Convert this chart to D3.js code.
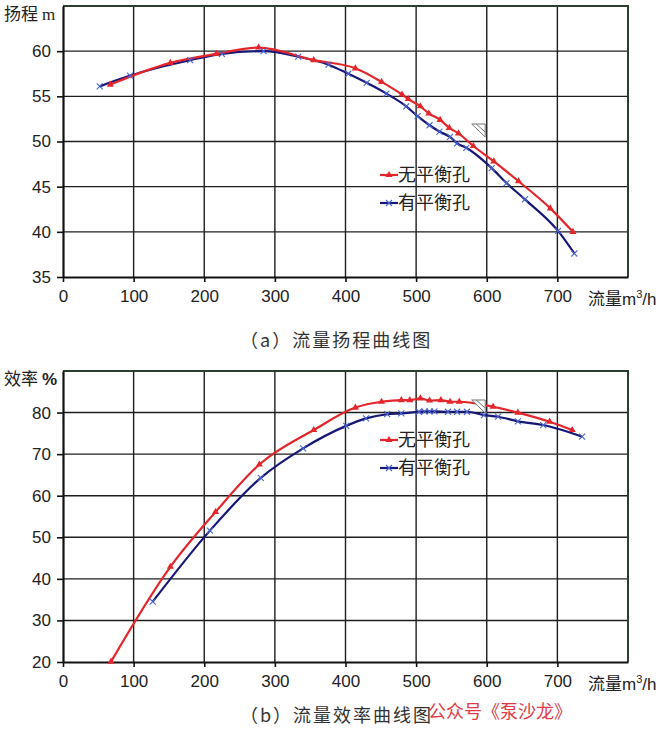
<!DOCTYPE html>
<html><head><meta charset="utf-8">
<script src="https://cdn.jsdelivr.net/npm/d3@7"></script>
<style>body{margin:0;background:#fff}svg{display:block}</style>
</head><body>
<svg id="c" width="665" height="730"></svg>
<script>
// ---- data ----
const seriesNames = ["无平衡孔", "有平衡孔"];
const xTicks = [0,100,200,300,400,500,600,700];
const headTicks = [35,40,45,50,55,60];
const effTicks = [20,30,40,50,60,70,80];

// Head (m) vs flow (m3/h)
const headNoHoleQ = [67,152,217,277,355,414,451,480,489,506,518,534,547,560,581,610,645,690,722];
const headNoHoleH = [56.3,58.7,59.7,60.4,59.0,58.1,56.6,55.2,54.7,53.9,53.1,52.4,51.5,50.9,49.5,47.8,45.6,42.6,40.0];
const headHoleQ = [52,95,180,225,284,333,376,404,430,458,486,502,519,533,548,558,571,607,628,654,701,724];
const headHoleH = [56.1,57.3,59.0,59.7,60.0,59.4,58.5,57.5,56.5,55.3,53.9,52.8,51.8,51.1,50.5,49.8,49.3,47.05,45.4,43.6,40.1,37.6];

// Efficiency (%) vs flow (m3/h)
const effNoHoleQ = [68,152,216,278,355,414,451,479,491,506,519,535,548,561,609,644,689,721];
const effNoHoleE = [20.1,42.9,56.1,67.5,75.8,81.2,82.6,83.0,83.0,83.4,82.9,83.0,82.6,82.6,81.4,80.0,77.8,75.8];
const effHoleQ = [127,208,280,340,401,429,459,479,504,512,519,526,545,558,572,596,616,644,680,735];
const effHoleE = [34.5,51.6,64.3,71.4,76.8,78.6,79.6,79.8,80.2,80.3,80.3,80.3,80.2,80.2,80.2,79.4,79.0,77.9,77.0,74.2];

const svg = d3.select("#c");
const SANS = "'Liberation Sans', Arial, sans-serif";
const CJK = "'Noto Sans CJK SC', sans-serif";
const RED = "#e4262c", NAVY = "#17177a", XBLUE = "#4a64d0";

function panel(o){
  const g = svg.append("g");
  const x = d3.scaleLinear().domain([0,800]).range([o.left,o.right]);
  const y = d3.scaleLinear().domain(o.ydom).range([o.bottom,o.top]);
  // gridlines
  g.selectAll(".vg").data(xTicks.slice(1)).join("line")
    .attr("x1",d=>x(d)).attr("x2",d=>x(d)).attr("y1",o.top).attr("y2",o.bottom)
    .attr("stroke","#1e1e1e").attr("stroke-width",1.4);
  g.selectAll(".hg").data(o.yticks.slice(1)).join("line")
    .attr("x1",o.left).attr("x2",o.right).attr("y1",d=>y(d)).attr("y2",d=>y(d))
    .attr("stroke","#1e1e1e").attr("stroke-width",1.4);
  // frame top/right
  g.append("path").attr("d",`M${o.left},${o.top}H${o.right}V${o.bottom}`)
    .attr("fill","none").attr("stroke","#2c3f2e").attr("stroke-width",2);
  // axes
  const ax = g.append("g").attr("transform",`translate(0,${o.bottom})`)
    .call(d3.axisBottom(x).tickValues(xTicks).tickSize(5).tickPadding(8).tickSizeOuter(0));
  const ay = g.append("g").attr("transform",`translate(${o.left},0)`)
    .call(d3.axisLeft(y).tickValues(o.yticks).tickSize(6).tickPadding(6).tickSizeOuter(0));
  [ax,ay].forEach(a=>{
    a.select(".domain").attr("stroke","#111").attr("stroke-width",2.2);
    a.selectAll(".tick line").attr("stroke","#111").attr("stroke-width",1.6);
    a.selectAll("text").attr("font-family",SANS).attr("font-size",17).attr("fill","#222");
  });
  // lines
  const line = d3.line().x(d=>x(d[0])).y(d=>y(d[1])).curve(d3.curveMonotoneX);
  const s1 = o.q1.map((q,i)=>[q,o.v1[i]]);
  const s2 = o.q2.map((q,i)=>[q,o.v2[i]]);
  g.append("path").attr("d",line(s2)).attr("fill","none").attr("stroke",NAVY).attr("stroke-width",2.2);
  g.append("path").attr("d",line(s1)).attr("fill","none").attr("stroke",RED).attr("stroke-width",2.2);
  // markers
  const tri = d3.symbol().type(d3.symbolTriangle).size(22);
  g.selectAll(".m1").data(s1).join("path").attr("d",tri())
    .attr("transform",d=>`translate(${x(d[0])},${y(d[1])})`).attr("fill",RED);
  g.selectAll(".m2").data(s2).join("path")
    .attr("d","M-3,-3L3,3M-3,3L3,-3")
    .attr("transform",d=>`translate(${x(d[0])},${y(d[1])})`)
    .attr("stroke",XBLUE).attr("stroke-width",1.1).attr("fill","none");
  // legend
  const lg = g.append("g");
  seriesNames.forEach((n,i)=>{
    const ly = o.legY + i*28;
    lg.append("line").attr("x1",380).attr("x2",398).attr("y1",ly).attr("y2",ly)
      .attr("stroke",i===0?RED:NAVY).attr("stroke-width",2.2);
    if(i===0) lg.append("path").attr("d",tri()).attr("transform",`translate(389,${ly})`).attr("fill",RED);
    else lg.append("path").attr("d","M-3,-3L3,3M-3,3L3,-3").attr("transform",`translate(389,${ly})`)
      .attr("stroke",XBLUE).attr("stroke-width",1.1);
    lg.append("text").attr("x",398).attr("y",ly).attr("dy","0.36em")
      .attr("font-family",CJK).attr("font-size",18).attr("fill","#222").text(n);
  });
  // small triangle indicator
  const tx = x(578), ty = o.triY;
  g.append("path").attr("d",`M${tx+0.5},${ty}H${tx+14}V${ty+13}Z M${tx+5},${ty}L${tx+14},${ty+8}`)
    .attr("fill","#fff").attr("stroke","#777").attr("stroke-width",1);
  // y title
  const yt = g.append("text").attr("x",4).attr("y",o.top+8).attr("dy","0.36em")
    .attr("font-size",17).attr("fill","#222");
  yt.append("tspan").attr("font-family",CJK).text(o.ytitle);
  yt.append("tspan").attr("font-family",o.unitFont).attr("font-weight",o.unitWeight).attr("dx",4).text(o.unit);
  // x title
  const xt = g.append("text").attr("x",588).attr("y",o.bottom+28).attr("font-size",17).attr("fill","#222");
  xt.append("tspan").attr("font-family",CJK).text("流量");
  xt.append("tspan").attr("font-family",SANS).text("m");
  xt.append("tspan").attr("font-family",SANS).attr("font-size",11).attr("dy",-7).text("3");
  xt.append("tspan").attr("font-family",SANS).attr("dy",7).text("/h");
  // caption
  svg.append("text").attr("x",240).attr("y",o.capY).attr("dy","0.36em")
    .attr("font-family",CJK).attr("font-size",18).attr("letter-spacing",2)
    .attr("fill","#333").text(o.caption);
}

panel({left:63,right:628,top:6,bottom:277,ydom:[35,65],yticks:headTicks,
  q1:headNoHoleQ,v1:headNoHoleH,q2:headHoleQ,v2:headHoleH,legY:175,triY:124,
  ytitle:"扬程",unit:"m",unitFont:"'Liberation Serif', serif",unitWeight:"normal",
  caption:"（a）流量扬程曲线图",capY:341});
panel({left:63,right:628,top:371,bottom:662,ydom:[20,90],yticks:effTicks,
  q1:effNoHoleQ,v1:effNoHoleE,q2:effHoleQ,v2:effHoleE,legY:440,triY:400,
  ytitle:"效率",unit:"%",unitFont:SANS,unitWeight:"bold",
  caption:"（b）流量效率曲线图",capY:716});

svg.append("text").attr("x",428).attr("y",712).attr("dy","0.36em")
  .attr("font-family",CJK).attr("font-size",18).attr("fill","#e23a48").text("公众号《泵沙龙》");
</script>
</body></html>
